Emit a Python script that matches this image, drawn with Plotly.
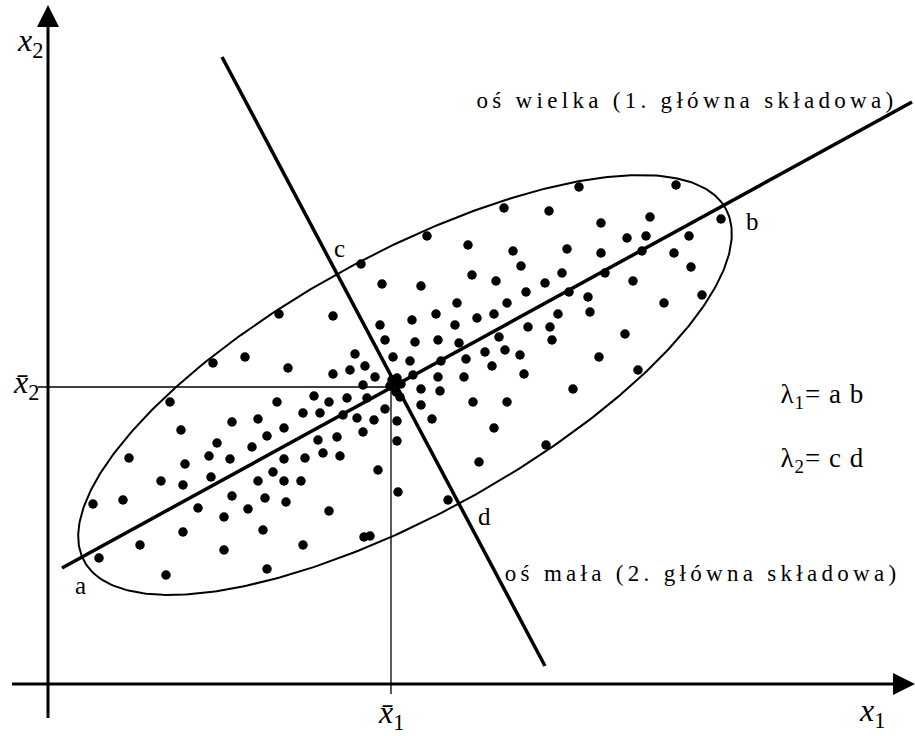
import numpy as np
import plotly.graph_objects as go

W, H = 915, 736

# Observations (x1, x2) in drawing units; x2 is measured downward on the canvas
obs_x1 = [361, 382, 279, 333, 380, 385, 355, 393, 213, 245, 288, 350, 365, 333, 375, 397,
          579, 676, 504, 549, 601, 650, 721, 427, 468, 513, 567, 601, 627, 646, 642, 689,
          674, 691, 521, 472, 496, 562, 605, 633, 421, 545, 526, 569, 588, 702, 664, 457,
          507, 436, 412, 477, 494, 558, 590, 455, 528, 550, 625, 415, 438, 459, 499, 552,
          410, 441, 466, 485, 505, 520, 492, 599, 638, 524, 438, 464, 413,
          170, 277, 314, 329, 347, 363, 232, 258, 303, 320, 343, 357, 374, 385, 367, 181,
          284, 267, 217, 252, 318, 337, 363, 397, 397, 129, 185, 209, 230, 284, 305, 323,
          340, 378, 161, 183, 211, 258, 273, 284, 301, 398, 93, 123, 198, 232, 224, 248,
          265, 286, 329, 183, 263, 140, 224, 303, 364, 370, 99, 166, 267,
          421, 440, 400, 421, 473, 507, 573, 432, 494, 546, 479, 448,
          390, 396, 401, 392]
obs_x2 = [264, 284, 314, 316, 325, 340, 354, 357, 363, 357, 368, 370, 366, 374, 377, 378,
          187, 185, 208, 211, 223, 217, 219, 236, 245, 251, 249, 253, 238, 236, 251, 236,
          253, 267, 266, 275, 281, 273, 273, 281, 286, 283, 292, 292, 297, 295, 303, 303,
          303, 314, 320, 318, 314, 314, 312, 325, 327, 327, 334, 342, 340, 343, 337, 340,
          361, 361, 359, 352, 350, 355, 366, 357, 370, 374, 377, 377, 375,
          402, 402, 396, 402, 398, 385, 422, 419, 413, 413, 415, 418, 420, 409, 398, 430,
          428, 436, 443, 447, 440, 437, 432, 421, 441, 458, 464, 456, 459, 459, 458, 453,
          456, 470, 481, 485, 477, 481, 472, 481, 481, 492, 504, 500, 508, 496, 517, 509,
          498, 502, 511, 532, 530, 545, 550, 545, 537, 536, 558, 575, 569,
          389, 391, 397, 405, 402, 402, 389, 419, 428, 445, 462, 500,
          386, 392, 384, 380]

# Sample means
mean_x1, mean_x2 = 391, 387

# Principal axes (end points)
major_x1 = [62, 912]
major_x2 = [568, 102]
minor_x1 = [222, 545]
minor_x2 = [57, 666]

# Concentration ellipse: centre, semi-axes, tilt (degrees)
ell_c = (405, 385)
ell_a, ell_b = 366, 130
ell_tilt = 28.8

# Coordinate axes
origin_x1, origin_x2 = 48, 684
axis_x1_end, axis_x2_end = 915, 5

labels = {
    "major": "oś wielka (1. główna składowa)",
    "minor": "oś mała (2. główna składowa)",
    "lam1": "λ<sub>1</sub>= a b",
    "lam2": "λ<sub>2</sub>= c d",
}

BLACK = "#000000"
SERIF = "Liberation Serif"

fig = go.Figure()

# ellipse outline
t = np.linspace(0, 2 * np.pi, 400)
th = np.deg2rad(ell_tilt)
ex = ell_c[0] + ell_a * np.cos(t) * np.cos(th) + ell_b * np.sin(t) * np.sin(th)
ey = ell_c[1] - ell_a * np.cos(t) * np.sin(th) + ell_b * np.sin(t) * np.cos(th)
fig.add_trace(go.Scatter(x=ex, y=ey, mode="lines", line=dict(color=BLACK, width=2),
                         hoverinfo="skip", showlegend=False))

# mean reference lines
fig.add_trace(go.Scatter(x=[origin_x1 - 10, mean_x1], y=[mean_x2, mean_x2], mode="lines",
                         line=dict(color=BLACK, width=1.3), hoverinfo="skip", showlegend=False))
fig.add_trace(go.Scatter(x=[mean_x1, mean_x1], y=[mean_x2, origin_x2 + 10], mode="lines",
                         line=dict(color=BLACK, width=1.3), hoverinfo="skip", showlegend=False))

# coordinate axes
fig.add_trace(go.Scatter(x=[12, axis_x1_end - 20], y=[origin_x2, origin_x2], mode="lines",
                         line=dict(color=BLACK, width=3), hoverinfo="skip", showlegend=False))
fig.add_trace(go.Scatter(x=[origin_x1, origin_x1], y=[718, axis_x2_end + 20], mode="lines",
                         line=dict(color=BLACK, width=3), hoverinfo="skip", showlegend=False))

# principal axes
fig.add_trace(go.Scatter(x=major_x1, y=major_x2, mode="lines", line=dict(color=BLACK, width=3.5),
                         hoverinfo="skip", showlegend=False))
fig.add_trace(go.Scatter(x=minor_x1, y=minor_x2, mode="lines", line=dict(color=BLACK, width=3.5),
                         hoverinfo="skip", showlegend=False))

# observations
fig.add_trace(go.Scatter(x=obs_x1, y=obs_x2, mode="markers",
                         marker=dict(color=BLACK, size=9.5, line=dict(width=0)),
                         hoverinfo="skip", showlegend=False))

# arrow heads
ah = 22
fig.add_shape(type="path", xref="x", yref="y", line=dict(width=0), fillcolor=BLACK,
              path=f"M {origin_x1 - ah/2},{axis_x2_end + ah} L {origin_x1 + ah/2},{axis_x2_end + ah} "
                   f"L {origin_x1},{axis_x2_end} Z")
fig.add_shape(type="path", xref="x", yref="y", line=dict(width=0), fillcolor=BLACK,
              path=f"M {axis_x1_end - ah},{origin_x2 - ah/2} L {axis_x1_end - ah},{origin_x2 + ah/2} "
                   f"L {axis_x1_end},{origin_x2} Z")


def txt(x, y, s, size=22):
    fig.add_annotation(x=x, y=y, xref="x", yref="y", text=s, showarrow=False,
                       xanchor="center", yanchor="middle",
                       font=dict(family=SERIF, size=size, color=BLACK))


txt(30, 42, "<i>x</i><sub>2</sub>", size=32)
txt(872, 712, "<i>x</i><sub>1</sub>", size=32)
txt(391, 714, "<i>x̄</i><sub>1</sub>", size=32)
txt(26, 384, "<i>x̄</i><sub>2</sub>", size=32)

txt(80, 585, "a", size=25)
txt(752, 221, "b", size=25)
txt(339, 248, "c", size=25)
txt(484, 516, "d", size=25)

txt(687, 100, labels["major"], size=23)
txt(702, 573, labels["minor"], size=23)
txt(822, 396, labels["lam1"], size=27)
txt(822, 460, labels["lam2"], size=27)

fig.update_xaxes(range=[0, W], visible=False, fixedrange=True)
fig.update_yaxes(range=[H, 0], visible=False, fixedrange=True)
fig.update_layout(width=W, height=H, margin=dict(l=0, r=0, t=0, b=0),
                  plot_bgcolor="white", paper_bgcolor="white")

spacing_js = """
document.querySelectorAll('.annotation-text').forEach(function(t){
  var s = t.textContent;
  if (s.indexOf('składowa') >= 0) { t.style.letterSpacing = '4.3px'; }
  else if (s.indexOf('=') >= 0) { t.style.letterSpacing = '1px'; }
});
"""

fig.write_html("out.html", post_script=spacing_js, config={"displayModeBar": False})
